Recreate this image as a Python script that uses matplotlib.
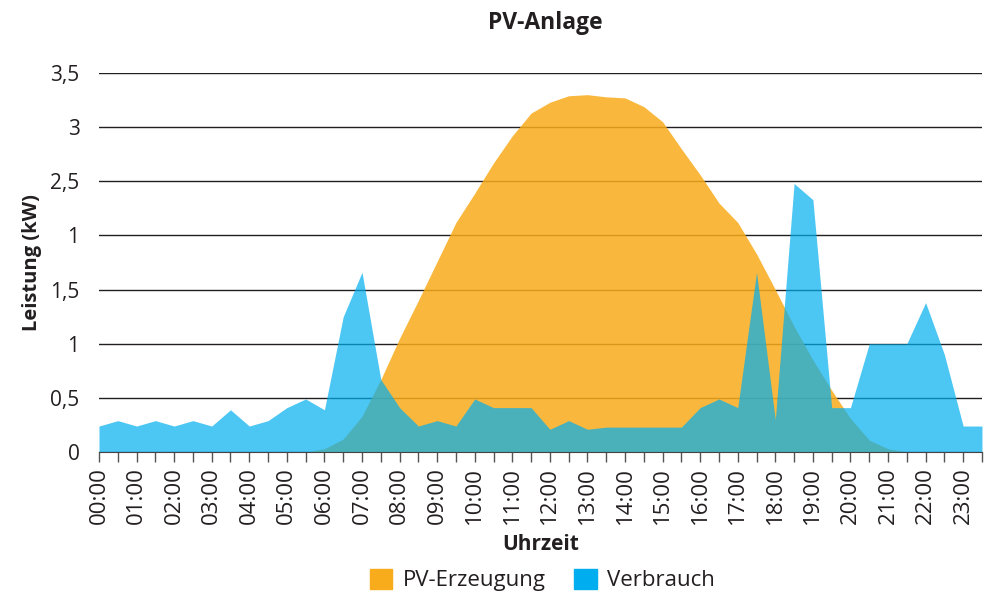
import numpy as np
import matplotlib
matplotlib.use("Agg")
import matplotlib.pyplot as plt
from matplotlib.patches import Patch

plt.rcParams['font.family'] = ['Open Sans', 'DejaVu Sans']

# half-hour values 00:00 .. 23:30
zeit = ['%02d:%02d' % (h, m) for h in range(24) for m in (0, 30)]

pv_erzeugung = [0, 0, 0, 0, 0, 0, 0, 0, 0, 0, 0, 0,
                0.03, 0.12, 0.33, 0.67, 1.05, 1.40, 1.76, 2.12, 2.39, 2.67, 2.92, 3.13,
                3.23, 3.29, 3.30, 3.28, 3.27, 3.19, 3.05, 2.80, 2.56, 2.30, 2.12, 1.83,
                1.50, 1.16, 0.85, 0.57, 0.31, 0.11, 0.03, 0, 0, 0, 0, 0]

verbrauch = [0.24, 0.29, 0.24, 0.29, 0.24, 0.29, 0.24, 0.39, 0.24, 0.29, 0.41, 0.49,
             0.39, 1.25, 1.66, 0.67, 0.41, 0.24, 0.29, 0.24, 0.49, 0.41, 0.41, 0.41,
             0.21, 0.29, 0.21, 0.23, 0.23, 0.23, 0.23, 0.23, 0.41, 0.49, 0.41, 1.66,
             0.30, 2.48, 2.33, 0.41, 0.41, 1.00, 1.00, 1.00, 1.38, 0.90, 0.24, 0.24]

y_ticks = [0, 0.5, 1, 1.5, 2, 2.5, 3, 3.5]
y_labels = ['0', '0,5', '1', '1,5', '1', '2,5', '3', '3,5']

ORANGE = '#F9AC1B'
BLUE = '#00AEEF'
TEXT = '#231f20'

x = np.arange(len(zeit))

fig = plt.figure(figsize=(9.86, 5.98), dpi=100)
ax = fig.add_axes([0.1004, 0.2441, 0.8955, 0.6338])

ax.fill_between(x, pv_erzeugung, color=ORANGE, alpha=0.85, lw=0, zorder=2)
ax.fill_between(x, verbrauch, color=BLUE, alpha=0.7, lw=0, zorder=3)

ax.set_xlim(0, len(zeit) - 1)
ax.set_ylim(0, 3.5)

# grid
ax.set_yticks(y_ticks)
ax.set_yticklabels(y_labels, fontsize=15, color=TEXT)
ax.yaxis.grid(True, color=TEXT, lw=1.0, zorder=1)
ax.set_axisbelow(True)
ax.tick_params(axis='y', length=0, pad=14)

ax.set_xticks(x, minor=True)
ax.set_xticks(x[::2])
ax.set_xticklabels(zeit[::2], rotation=90, fontsize=16, color=TEXT)
ax.tick_params(axis='x', which='both', direction='out', length=7, width=1,
               color='#555555', pad=4)

for s in ['left', 'right', 'top']:
    ax.spines[s].set_visible(False)
ax.spines['bottom'].set_color('#444444')
ax.spines['bottom'].set_zorder(5)

ax.set_ylabel('Leistung (kW)', fontsize=14.5, fontweight='bold', color=TEXT, labelpad=6)
ax.set_xlabel('Uhrzeit', fontsize=15, fontweight='bold', color=TEXT, labelpad=7)
fig.text(0.553, 0.962, 'PV-Anlage', ha='center', va='center', fontsize=16.5,
         fontweight='bold', color=TEXT)

handles = [Patch(color=ORANGE, label='PV-Erzeugung'),
           Patch(color=BLUE, label='Verbrauch')]
fig.legend(handles=handles, loc='center', bbox_to_anchor=(0.55, 0.03), ncol=2,
           frameon=False, fontsize=16, handlelength=1.0, handleheight=1.0,
           handletextpad=0.45, columnspacing=1.3, labelcolor=TEXT)

fig.savefig('out.png', dpi=100)
